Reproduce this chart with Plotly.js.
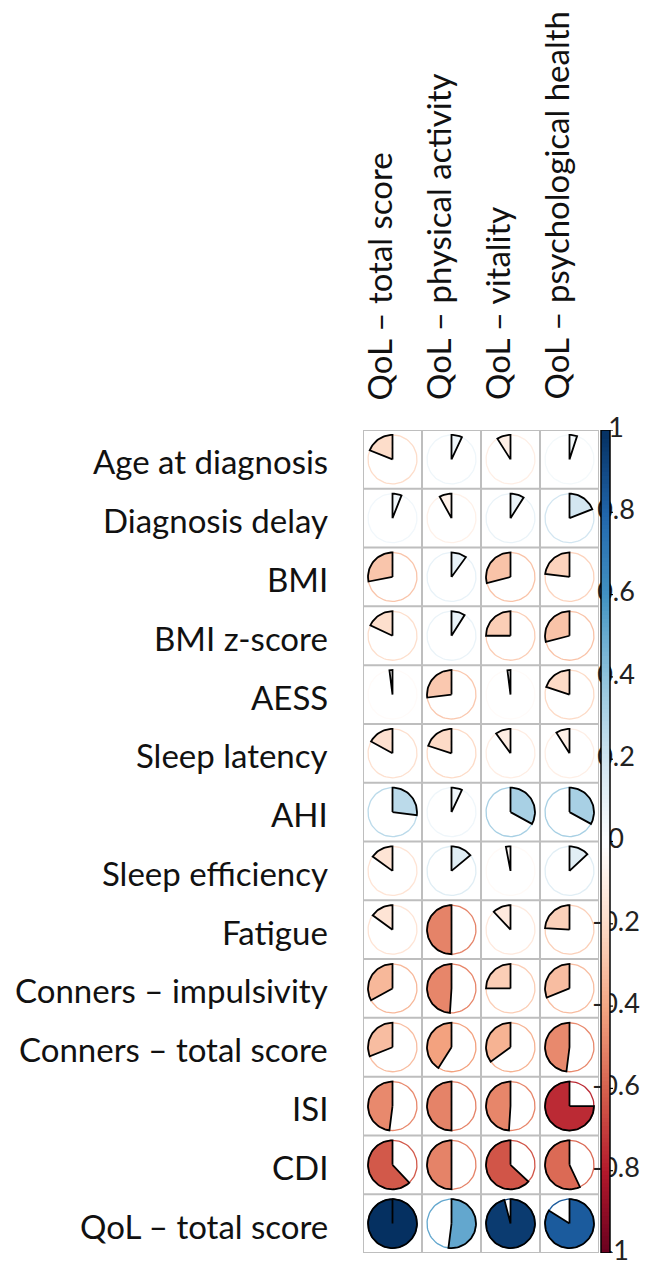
<!DOCTYPE html>
<html>
<head>
<meta charset="utf-8">
<script src="https://cdn.plot.ly/plotly-3.0.1.min.js"></script>
<style>html,body{margin:0;padding:0;background:#fff;}</style>
</head>
<body>
<div id="chart" style="width:649px;height:1268px;"></div>
<script>
// ---- data ----
const rowLabels = ["Age at diagnosis","Diagnosis delay","BMI","BMI z-score","AESS","Sleep latency","AHI","Sleep efficiency","Fatigue","Conners – impulsivity","Conners – total score","ISI","CDI","QoL – total score"];
const colLabels = ["QoL – total score","QoL – physical activity","QoL – vitality","QoL – psychological health"];
const qolTotal    = [-0.19, 0.06, -0.28, -0.18, -0.02, -0.17, 0.27, -0.15, -0.15, -0.33, -0.31, -0.48, -0.62, 1.00];
const qolPhysical = [0.07, -0.08, 0.10, 0.09, -0.27, -0.20, 0.07, 0.14, -0.50, -0.49, -0.41, -0.50, -0.50, 0.52];
const qolVitality = [-0.09, 0.09, -0.29, -0.25, -0.02, -0.10, 0.33, -0.03, -0.12, -0.25, -0.35, -0.49, -0.63, 0.96];
const qolPsych    = [0.05, 0.19, -0.23, -0.29, -0.20, -0.09, 0.33, 0.13, -0.24, -0.31, -0.48, -0.75, -0.57, 0.84];
const colorbarTicks = [1, 0.8, 0.6, 0.4, 0.2, 0, -0.2, -0.4, -0.6, -0.8, -1];
const colorbarTickText = ["1","0.8","0.6","0.4","0.2","0","-0.2","-0.4","-0.6","-0.8","-1"];

// ---- colour palette (RdBu, corrplot style) ----
const stops = ["#67001F","#B2182B","#D6604D","#F4A582","#FDDBC7","#FFFFFF","#D1E5F0","#92C5DE","#4393C3","#2166AC","#053061"];
function hex2rgb(h){return [parseInt(h.slice(1,3),16),parseInt(h.slice(3,5),16),parseInt(h.slice(5,7),16)];}
function colorFor(v){
  const t = (Math.max(-1,Math.min(1,v))+1)/2*(stops.length-1);
  const i = Math.min(stops.length-2, Math.floor(t));
  const f = t - i;
  const a = hex2rgb(stops[i]), b = hex2rgb(stops[i+1]);
  const c = a.map((x,k)=>Math.round(x+(b[k]-x)*f));
  return `rgb(${c[0]},${c[1]},${c[2]})`;
}

const W = 649, H = 1268;
const gx0 = 363, gx1 = 599, gy0 = 430, gy1 = 1253;
const nR = rowLabels.length, nC = colLabels.length;
const pxX = (gx1-gx0)/nC, pxY = (gy1-gy0)/nR;
const Rx = 0.415, Ry = Rx*pxX/pxY;

const columns = [qolTotal, qolPhysical, qolVitality, qolPsych];
const traces = [];

columns.forEach((vals, ci) => {
  const cx = ci + 1;
  vals.forEach((v, ri) => {
    const cy = nR - ri;
    const col = colorFor(v);
    // circle outline
    const ox = [], oy = [];
    for (let k = 0; k <= 72; k++) {
      const a = k/72*2*Math.PI;
      ox.push(cx + Rx*Math.sin(a)); oy.push(cy + Ry*Math.cos(a));
    }
    traces.push({type:'scatter', mode:'lines', x:ox, y:oy, xaxis:'x', yaxis:'y',
      line:{color:col, width:1.3}, hoverinfo:'skip', showlegend:false});
    // pie wedge
    const theta = v*2*Math.PI;
    const n = Math.max(2, Math.ceil(Math.abs(v)*100));
    const px = [cx], py = [cy];
    for (let k = 0; k <= n; k++) {
      const a = theta*k/n;
      px.push(cx + Rx*Math.sin(a)); py.push(cy + Ry*Math.cos(a));
    }
    px.push(cx); py.push(cy);
    traces.push({type:'scatter', mode:'lines', x:px, y:py, xaxis:'x', yaxis:'y',
      fill:'toself', fillcolor:col, line:{color:'#000', width:1.8},
      hoverinfo:'skip', showlegend:false});
  });
});

// ---- colour bar (labels first so the bar covers their left part) ----
traces.push({type:'scatter', mode:'text', x:colorbarTicks.map(()=>616), y:colorbarTicks,
  text:colorbarTickText, textposition:'middle center', cliponaxis:false,
  textfont:{family:'Lato, sans-serif', size:27, color:'#222'},
  xaxis:'x2', yaxis:'y2', hoverinfo:'skip', showlegend:false});
const nb = 200, barY = [], barC = [];
const half = 4.5/(gy1-gy0)*2;
for (let k = 0; k < nb; k++) {
  const v = -1 + half + (2-2*half)*k/(nb-1);
  barY.push(v); barC.push(colorFor(v));
}
traces.push({type:'scatter', mode:'markers', x:barY.map(()=>605.5), y:barY,
  marker:{symbol:'square', size:9, color:barC, line:{width:0}},
  xaxis:'x2', yaxis:'y2', hoverinfo:'skip', showlegend:false, cliponaxis:false});
traces.push({type:'scatter', mode:'lines', x:[601,610,610,601,601], y:[-1,-1,1,1,-1],
  line:{color:'#000', width:1.5}, xaxis:'x2', yaxis:'y2', hoverinfo:'skip', showlegend:false, cliponaxis:false});
const tkx = [], tky = [];
colorbarTicks.forEach(t => { tkx.push(610, 613, null); tky.push(t, t, null); });
traces.push({type:'scatter', mode:'lines', x:tkx, y:tky, line:{color:'#000', width:1.2},
  xaxis:'x2', yaxis:'y2', hoverinfo:'skip', showlegend:false, cliponaxis:false});

// ---- grid ----
const shapes = [];
for (let i = 0; i <= nC; i++) shapes.push({type:'line', xref:'x', yref:'y', x0:i+0.5, x1:i+0.5, y0:0.5, y1:nR+0.5, line:{color:'#BEBEBE', width:2}, layer:'below'});
for (let j = 0; j <= nR; j++) shapes.push({type:'line', xref:'x', yref:'y', x0:0.5, x1:nC+0.5, y0:j+0.5, y1:j+0.5, line:{color:'#BEBEBE', width:2}, layer:'below'});

// ---- labels ----
const annotations = [];
rowLabels.forEach((lab, ri) => {
  annotations.push({xref:'paper', yref:'y', x:330/W, y:nR-ri, xanchor:'right', yanchor:'middle',
    text:lab, showarrow:false, yshift:-2, font:{family:'Lato, sans-serif', size:33, color:'#111'}});
});
colLabels.forEach((lab, ci) => {
  annotations.push({xref:'x', yref:'paper', x:ci+1, y:(H-402)/H, xanchor:'center', yanchor:'bottom',
    textangle:-90, text:lab, showarrow:false, xshift:-14, font:{family:'Lato, sans-serif', size:33, color:'#111'}});
});

const hidden = {showgrid:false, zeroline:false, showticklabels:false, ticks:'', showline:false, fixedrange:true};
const layout = {
  width:W, height:H, margin:{l:0,r:0,t:0,b:0}, paper_bgcolor:'#fff', plot_bgcolor:'rgba(0,0,0,0)',
  showlegend:false,
  xaxis:Object.assign({domain:[gx0/W, gx1/W], range:[0.5, nC+0.5]}, hidden),
  yaxis:Object.assign({domain:[(H-gy1)/H, (H-gy0)/H], range:[0.5, nR+0.5]}, hidden),
  xaxis2:Object.assign({domain:[596/W, 1], range:[596, 649], anchor:'y2'}, hidden),
  yaxis2:Object.assign({domain:[(H-gy1)/H, (H-gy0)/H], range:[-1, 1], anchor:'x2'}, hidden),
  shapes:shapes, annotations:annotations
};
Plotly.newPlot('chart', traces, layout, {displayModeBar:false, staticPlot:true});
</script>
</body>
</html>
